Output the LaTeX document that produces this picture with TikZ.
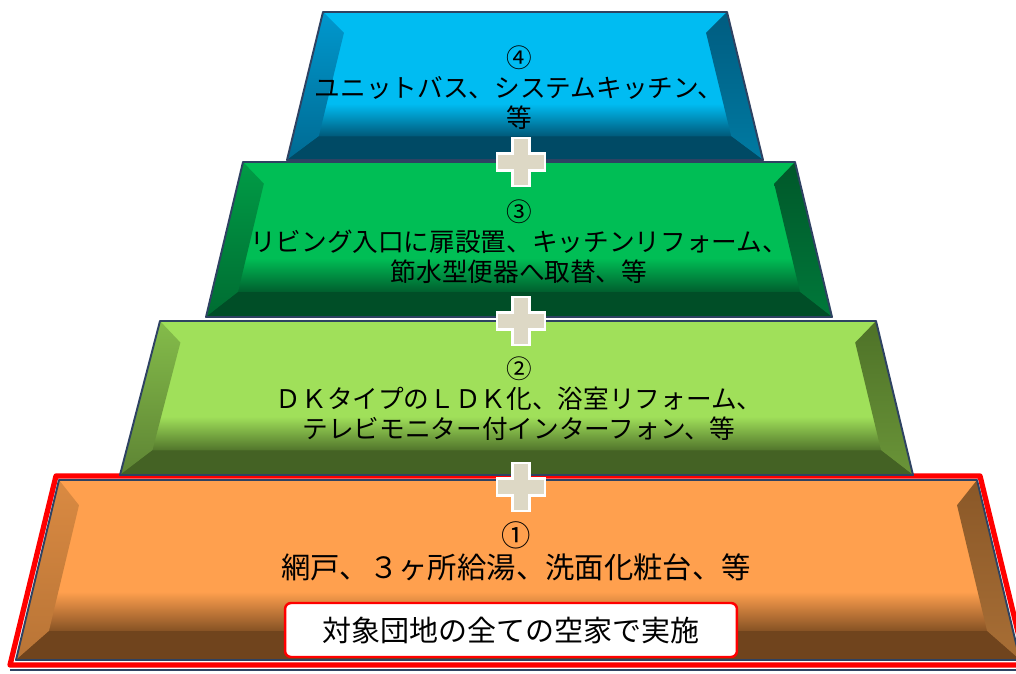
\documentclass[tikz,border=0pt]{standalone}
\usepackage{fontspec}
\setmainfont{Noto Sans CJK JP}
\usetikzlibrary{calc}

% tier colours: face, dark bottom, left and right bevels
\definecolor{bluelight}{HTML}{00BCF2}
\definecolor{bluedark}{HTML}{00506E}
\definecolor{blueleft}{HTML}{0098CE}
\definecolor{blueleftdk}{HTML}{006A92}
\definecolor{blueright}{HTML}{005C80}
\definecolor{bluerightdk}{HTML}{007AA2}
\definecolor{greenlight}{HTML}{00BE55}
\definecolor{greendark}{HTML}{00552A}
\definecolor{greenleft}{HTML}{009C46}
\definecolor{greenleftdk}{HTML}{006C32}
\definecolor{greenright}{HTML}{00582A}
\definecolor{greenrightdk}{HTML}{00783A}
\definecolor{limelight}{HTML}{A0E05A}
\definecolor{limedark}{HTML}{4A6B27}
\definecolor{limeleft}{HTML}{84BC4A}
\definecolor{limeleftdk}{HTML}{5E8434}
\definecolor{limeright}{HTML}{4E7228}
\definecolor{limerightdk}{HTML}{6A9438}
\definecolor{orangelight}{HTML}{FFA04E}
\definecolor{orangedark}{HTML}{7A4A20}
\definecolor{orangeleft}{HTML}{DA8A42}
\definecolor{orangeleftdk}{HTML}{B87436}
\definecolor{orangeright}{HTML}{8A5828}
\definecolor{orangerightdk}{HTML}{A86E35}
\definecolor{tieredge}{HTML}{2E4262}
\definecolor{plusfill}{HTML}{DDD8C5}

\pgfdeclareverticalshading{blueface}{100bp}{color(0bp)=(bluedark); color(32bp)=(bluedark); color(44bp)=(bluelight); color(100bp)=(bluelight)}
\pgfdeclareverticalshading{greenface}{100bp}{color(0bp)=(greendark); color(32bp)=(greendark); color(44bp)=(greenlight); color(100bp)=(greenlight)}
\pgfdeclareverticalshading{limeface}{100bp}{color(0bp)=(limedark); color(32bp)=(limedark); color(44bp)=(limelight); color(100bp)=(limelight)}
\pgfdeclareverticalshading{orangeface}{100bp}{color(0bp)=(orangedark); color(32bp)=(orangedark); color(44bp)=(orangelight); color(100bp)=(orangelight)}

% #1 colour name, #2 top y, #3 bottom y, #4/#5 top left/right x, #6/#7 bottom left/right x
\newcommand{\drawtier}[7]{%
  \coordinate (#1tl) at (#4,#2);
  \coordinate (#1tr) at (#5,#2);
  \coordinate (#1bl) at (#6,#3);
  \coordinate (#1br) at (#7,#3);
  \coordinate (#1itl) at ($(#1tl)!0.14!(#1bl)+(26,0)$);
  \coordinate (#1itr) at ($(#1tr)!0.14!(#1br)+(-26,0)$);
  \coordinate (#1ibl) at ($(#1tl)!0.84!(#1bl)+(26,0)$);
  \coordinate (#1ibr) at ($(#1tr)!0.84!(#1br)+(-26,0)$);
  \shade[shading=#1face] (#1tl) -- (#1tr) -- (#1br) -- (#1bl) -- cycle;
  \shade[top color=#1left, bottom color=#1leftdk] (#1tl) -- (#1itl) -- (#1ibl) -- (#1bl) -- cycle;
  \shade[top color=#1right, bottom color=#1rightdk] (#1tr) -- (#1itr) -- (#1ibr) -- (#1br) -- cycle;
  \fill[#1dark!92!black] (#1bl) -- (#1ibl) -- (#1ibr) -- (#1br) -- cycle;
  \draw[tierline] (#1tl) -- (#1tr) -- (#1br) -- (#1bl) -- cycle;
}

\begin{document}
\begin{tikzpicture}[x=0.02cm, y=-0.02cm,
    tierline/.style={draw=tieredge, line width=1.1pt, line join=round},
    tiertext/.style={align=center, text=black, font=\fontsize{14.6}{17}\selectfont},
    basetext/.style={align=center, text=black, font=\fontsize{16.7}{18.3}\selectfont},
    plussign/.style={fill=plusfill, draw=white, line width=1.2pt},
    notebox/.style={rectangle, draw=red, line width=1.4pt, fill=white, rounded corners=0.12cm,
      minimum width=9.04cm, minimum height=1.08cm, font=\fontsize{16.5}{18.3}\selectfont}]

    \useasboundingbox (0,0) rectangle (1016,673);

    % red frame round the base tier
    \draw[tieredge, line width=0.8pt] (10,670) -- (1016,670);
    \draw[red, line width=3pt, line join=round] (56,476) -- (980,476) -- (1026,665) -- (10,665) -- cycle;

    \drawtier{blue}{12}{160}{323}{727}{287}{763}
    \drawtier{green}{162}{317}{243}{795}{206}{832}
    \drawtier{lime}{321}{475}{160}{876}{120}{913}
    \drawtier{orange}{480}{660}{59}{977}{16}{1020}

    % plus marks between the tiers
    \foreach \py in {162,321,487} {
        \draw[plussign] (521,\py) ++(-8.5,-24) -- ++(17,0) -- ++(0,15.5) -- ++(15.5,0) -- ++(0,17)
            -- ++(-15.5,0) -- ++(0,15.5) -- ++(-17,0) -- ++(0,-15.5) -- ++(-15.5,0) -- ++(0,-17)
            -- ++(15.5,0) -- cycle;
    }

    \node[tiertext] (four) at (519,88) {④\\ユニットバス、システムキッチン、\\等};
    \node[tiertext] (three) at (519,242) {③\\リビング入口に扉設置、キッチンリフォーム、\\節水型便器へ取替、等};
    \node[tiertext] (two) at (519,399) {②\\ＤＫタイプのＬＤＫ化、浴室リフォーム、\\テレビモニター付インターフォン、等};
    \node[basetext] (one) at (516,551) {①\\網戸、３ヶ所給湯、洗面化粧台、等};
    \node[notebox] (note) at (511,630) {対象団地の全ての空家で実施};
\end{tikzpicture}
\end{document}
